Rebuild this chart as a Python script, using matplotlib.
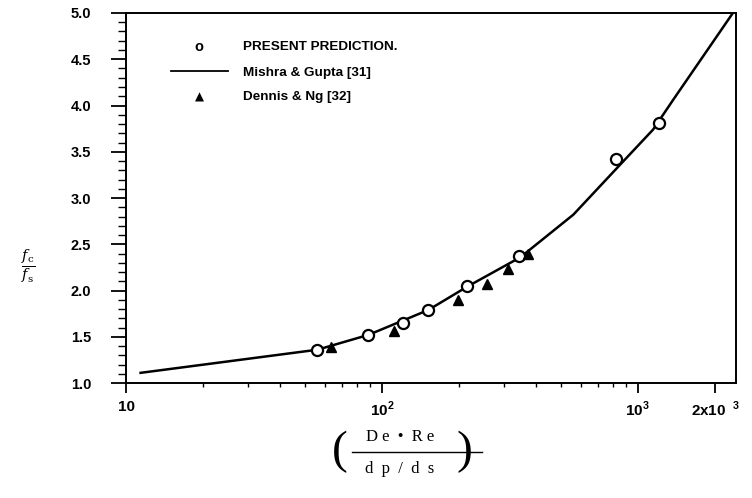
import matplotlib
matplotlib.use("Agg")
from matplotlib import pyplot as plt
from matplotlib.ticker import FixedLocator, MultipleLocator, NullFormatter

# 数据
pred_x = [56, 88.5, 121, 152, 215, 344, 824, 1213]
pred_y = [1.36, 1.52, 1.65, 1.79, 2.05, 2.37, 3.42, 3.81]

mishra_x = [11.4, 56, 88.5, 152, 215, 348, 560, 853, 1148, 1374, 2340]
mishra_y = [1.11, 1.36, 1.52, 1.79, 2.04, 2.36, 2.82, 3.36, 3.74, 4.06, 4.99]

dennis_x = [63, 112, 199, 258, 312, 373]
dennis_y = [1.39, 1.56, 1.90, 2.07, 2.23, 2.39]

y_ticks = [1.0, 1.5, 2.0, 2.5, 3.0, 3.5, 4.0, 4.5, 5.0]
x_ticks = [10, 100, 1000, 2000]
x_tick_labels = ["10", "10$^{2}$", "10$^{3}$", "2x10$^{\\ \\ 3}$"]

plt.rcParams["font.family"] = ["Liberation Sans", "DejaVu Sans"]
plt.rcParams["mathtext.fontset"] = "custom"
plt.rcParams["mathtext.rm"] = "Liberation Sans:bold"

fig = plt.figure(figsize=(7.52, 4.98), dpi=100)
ax = fig.add_axes([0.1676, 0.2309, 0.8111, 0.743])

ax.plot(mishra_x, mishra_y, color="black", linewidth=1.8, label="Mishra & Gupta [31]")
ax.plot(pred_x, pred_y, linestyle="none", marker="o", markersize=8,
        markerfacecolor="white", markeredgecolor="black", markeredgewidth=1.6,
        label="PRESENT PREDICTION.")
ax.plot(dennis_x, dennis_y, linestyle="none", marker="^", markersize=6.5,
        color="black", label="Dennis & Ng [32]")

ax.set_xscale("log")
ax.set_xlim(10, 2420)
ax.set_ylim(1.0, 5.0)

ax.xaxis.set_major_locator(FixedLocator(x_ticks))
ax.set_xticklabels(x_tick_labels, fontsize=11, fontweight="bold")
ax.xaxis.set_minor_formatter(NullFormatter())
ax.set_yticks(y_ticks)
ax.set_yticklabels(["{:.1f}".format(v) for v in y_ticks], fontsize=10.5, fontweight="bold")
ax.yaxis.set_minor_locator(MultipleLocator(0.1))

ax.tick_params(which="major", direction="out", length=7, width=1.3, pad=5)
ax.tick_params(which="minor", direction="out", length=3, width=1.0)
ax.tick_params(axis="y", which="major", length=11, pad=14)
ax.tick_params(axis="y", which="minor", length=6)
for s in ax.spines.values():
    s.set_linewidth(1.4)

# 图例 (手动)
fig.text(0.265, 0.905, "o", fontsize=10.5, ha="center", va="center", fontweight="bold")
fig.text(0.323, 0.905, "PRESENT PREDICTION.", fontsize=9.7, fontweight="bold", va="center")
fig.lines.append(plt.Line2D([0.228, 0.303], [0.857, 0.857], color="black", lw=1.3,
                            transform=fig.transFigure))
fig.text(0.323, 0.853, "Mishra & Gupta [31]", fontsize=9.7, fontweight="bold", va="center")
fig.text(0.265, 0.806, "\u25b2", fontsize=8.5, ha="center", va="center",
         family=["DejaVu Sans"])
fig.text(0.323, 0.806, "Dennis & Ng [32]", fontsize=9.7, fontweight="bold", va="center")

# y 轴标签
fig.text(0.037, 0.464, r"$\frac{f_{\mathrm{c}}}{f_{\mathrm{s}}}$", fontsize=15,
         ha="center", va="center", family="DejaVu Serif",
         math_fontfamily="dejavuserif")

# x 轴标签
fig.text(0.532, 0.122, "D e  \u2022  R e", fontsize=12, ha="center", va="center",
         family="Liberation Serif")
fig.lines.append(plt.Line2D([0.468, 0.641], [0.092, 0.092], color="black", lw=1.0,
                            transform=fig.transFigure))
fig.text(0.532, 0.058, "d  p  /  d  s", fontsize=12, ha="center", va="center",
         family="Liberation Serif")
fig.text(0.452, 0.092, "(", fontsize=34, ha="center", va="center",
         family="Liberation Serif", fontweight="light")
fig.text(0.618, 0.092, ")", fontsize=34, ha="center", va="center",
         family="Liberation Serif", fontweight="light")

plt.savefig("out.png", dpi=100)
